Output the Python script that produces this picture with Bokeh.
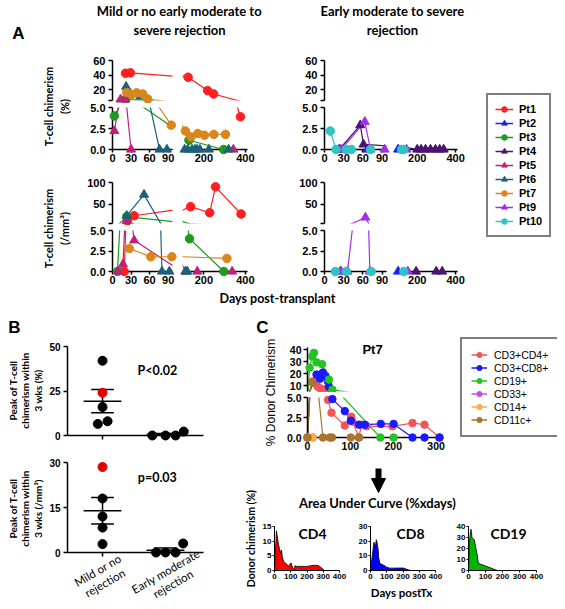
import math
from bokeh.plotting import figure
from bokeh.models import (Range1d, FixedTicker, Legend, LegendItem, Arrow, NormalHead,
                          LinearAxis, NumeralTickFormatter, Spacer)
from bokeh.layouts import row, column
from bokeh.core.properties import value
from bokeh.embed import file_html
from bokeh.resources import INLINE

# ---------------- Panel A data : T-cell chimerism (%) ----------------
PT1_PCT_DAY = [21, 29, 124, 218, 247, 376]
PT1_PCT_VAL = [42.5, 43, 37, 18.6, 14, 3.9]
PT2_PCT_DAY = [67, 100]
PT2_PCT_VAL = [0, 0]
PT3_PCT_DAY = [3, 21, 128, 295]
PT3_PCT_VAL = [4.0, 6.5, 1.1, 0]
PT4_PCT_DAY = [23, 56, 61, 200, 220, 243, 269, 295, 317, 338]
PT4_PCT_VAL = [0, 2.9, 0.6, 0, 0, 0, 0, 0, 0, 0]
PT5_PCT_DAY = [3, 13, 21, 30, 342]
PT5_PCT_VAL = [2.2, 6.5, 6.5, 0, 0]
PT6_PCT_DAY = [22, 45, 76, 88, 107, 122, 143, 157, 167, 181, 224, 319]
PT6_PCT_VAL = [24, 10.5, 0, 0, 0, 0, 0, 0, 0, 0, 0, 0]
PT7_PCT_DAY = [23, 31, 39, 49, 57, 95, 111, 138, 171, 203, 248, 304]
PT7_PCT_VAL = [16, 13, 15.5, 14, 7, 2.9, 2.2, 1.5, 1.9, 1.7, 1.8, 1.8]
PT9_PCT_DAY = [26, 63, 72, 94, 144]
PT9_PCT_VAL = [0, 3.3, 0, 0, 0]
PT10_PCT_DAY = [9, 18, 34, 42, 72, 118, 130]
PT10_PCT_VAL = [2.2, 0, 0, 0, 0, 0, 0]

# ---------------- Panel A data : T-cell chimerism (/mm3) ----------------
PT1_MM3_DAY = [19, 24, 35, 136, 228, 256, 379]
PT1_MM3_VAL = [0, 11, 23, 44, 30, 90, 27]
PT2_MM3_DAY = [100]
PT2_MM3_VAL = [0]
PT3_MM3_DAY = [8, 23, 131, 296]
PT3_MM3_VAL = [0, 21, 4.0, 0]
PT4_MM3_DAY = [25, 194, 299, 330]
PT4_MM3_VAL = [0, 0, 0, 0]
PT5_MM3_DAY = [9, 17, 23, 35, 112, 168, 336]
PT5_MM3_VAL = [0, 0.9, 11, 3.8, 0, 0, 0]
PT6_MM3_DAY = [23, 51, 80, 92, 111, 120]
PT6_MM3_VAL = [23, 72, 0, 0, 0, 0]
PT7_MM3_DAY = [27, 62, 96, 311]
PT7_MM3_VAL = [2.8, 1.8, 1.8, 1.6]
PT9_MM3_DAY = [26, 36, 64, 71, 151]
PT9_MM3_VAL = [0, 0, 19, 0, 0]
PT10_MM3_DAY = [17, 34, 73, 130]
PT10_MM3_VAL = [0, 0, 0, 0]

PATIENTS = ["Pt1", "Pt2", "Pt3", "Pt4", "Pt5", "Pt6", "Pt7", "Pt9", "Pt10"]
PT_COLORS = ["#ff1f1f", "#1f1fe6", "#1e9a1e", "#4a1470", "#c0207a",
             "#1d6078", "#d9861c", "#a030e8", "#2ec4c4"]
PT_MARKERS = ["circle", "triangle", "circle", "triangle", "triangle",
              "triangle", "circle", "triangle", "circle"]
GROUP_MILD = ["Pt1", "Pt3", "Pt5", "Pt6", "Pt7"]
GROUP_EARLY = ["Pt2", "Pt4", "Pt9", "Pt10"]

SERIES_PCT = {"Pt1": (PT1_PCT_DAY, PT1_PCT_VAL), "Pt2": (PT2_PCT_DAY, PT2_PCT_VAL),
              "Pt3": (PT3_PCT_DAY, PT3_PCT_VAL), "Pt4": (PT4_PCT_DAY, PT4_PCT_VAL),
              "Pt5": (PT5_PCT_DAY, PT5_PCT_VAL), "Pt6": (PT6_PCT_DAY, PT6_PCT_VAL),
              "Pt7": (PT7_PCT_DAY, PT7_PCT_VAL), "Pt9": (PT9_PCT_DAY, PT9_PCT_VAL),
              "Pt10": (PT10_PCT_DAY, PT10_PCT_VAL)}
SERIES_MM3 = {"Pt1": (PT1_MM3_DAY, PT1_MM3_VAL), "Pt2": (PT2_MM3_DAY, PT2_MM3_VAL),
              "Pt3": (PT3_MM3_DAY, PT3_MM3_VAL), "Pt4": (PT4_MM3_DAY, PT4_MM3_VAL),
              "Pt5": (PT5_MM3_DAY, PT5_MM3_VAL), "Pt6": (PT6_MM3_DAY, PT6_MM3_VAL),
              "Pt7": (PT7_MM3_DAY, PT7_MM3_VAL), "Pt9": (PT9_MM3_DAY, PT9_MM3_VAL),
              "Pt10": (PT10_MM3_DAY, PT10_MM3_VAL)}

# ---------------- Panel B data ----------------
B_CATEGORIES = ["Mild or no\nrejection", "Early moderate\nrejection"]
B_PCT_MILD = [42, 24, 16, 8, 6.5]
B_PCT_EARLY = [0, 0, 0, 2.2]
B_MM3_MILD = [28.5, 18, 12, 8.3, 2.8]
B_MM3_EARLY = [0, 0, 0, 3]
B_PCT_HIGHLIGHT = 1   # index of the red point (mild group)
B_MM3_HIGHLIGHT = 0
# horizontal scatter jitter (category units)
B_PCT_JIT_MILD = [0, 0, 0, 0.08, -0.075]
B_PCT_JIT_EARLY = [-0.21, 0, 0.16, 0.29]
B_MM3_JIT_MILD = [0, 0, 0, 0, 0]
B_MM3_JIT_EARLY = [-0.15, 0, 0.16, 0.28]

# ---------------- Panel C data (Pt7 lineages) ----------------
CD4_DAY = [0, 12, 16, 24, 30, 36, 43, 48, 56, 87, 102, 105, 120, 126, 138, 198, 245, 273, 308]
CD4_VAL = [0, 13.5, 12, 9, 7.6, 6, 7, 4.7, 3.1, 1.5, 2.6, 2.0, 0, 1.6, 1.4, 1.4, 1.8, 1.6, 0]
CD8_DAY = [0, 21, 29, 36, 42, 48, 50, 58, 87, 101, 120, 134, 171, 201, 245, 273, 308]
CD8_VAL = [0, 19.3, 15.8, 21, 18, 13.5, 9, 4.8, 3.3, 2.1, 1.6, 1.6, 1.7, 1.7, 0, 0, 0]
CD19_DAY = [0, 5, 11, 15, 21, 34, 50, 58, 170, 201]
CD19_VAL = [0, 25, 34.5, 37.5, 29.5, 28, 15, 6.5, 0, 0]
CD33_DAY = [0, 12]
CD33_VAL = [0, 0]
CD14_DAY = [0, 12]
CD14_VAL = [0, 0]
CD11C_DAY = [0, 12, 36, 52, 57, 101, 120]
CD11C_VAL = [0, 12.5, 0, 0, 0, 0, 0]
C_NAMES = ["CD3+CD4+", "CD3+CD8+", "CD19+", "CD33+", "CD14+", "CD11c+"]
C_COLORS = ["#f25555", "#1a1aff", "#22c322", "#c24ee0", "#ffaa44", "#a8742e"]
C_SERIES = [(CD4_DAY, CD4_VAL), (CD8_DAY, CD8_VAL), (CD19_DAY, CD19_VAL),
            (CD33_DAY, CD33_VAL), (CD14_DAY, CD14_VAL), (CD11C_DAY, CD11C_VAL)]
AUC_NAMES = ["CD4", "CD8", "CD19"]
AUC_COLORS = ["#ff0000", "#0000ff", "#00b400"]
AUC_YMAX = [15, 30, 40]
AUC_YTICKS = [[0, 5, 10, 15], [0, 10, 20, 30], [0, 10, 20, 30, 40]]

# ---------------- helpers ----------------
TICK_FONT = "Liberation Sans"


def make_fig(w, h, xr, yr, bl, br, bt, bb):
    p = figure(width=w, height=h, x_range=Range1d(*xr), y_range=Range1d(*yr),
               x_axis_type=None, y_axis_type=None, output_backend="svg",
               toolbar_location=None, min_border_left=bl, min_border_right=br,
               min_border_top=bt, min_border_bottom=bb)
    p.outline_line_color = None
    p.background_fill_color = "white"
    p.border_fill_color = "white"
    return p


def add_axis(p, side, ticks, fmt=None, overrides=None, size="11px", tick_out=4,
             standoff=2, lw=1.5):
    ax = LinearAxis(ticker=FixedTicker(ticks=ticks))
    if fmt:
        ax.formatter = NumeralTickFormatter(format=fmt)
    if overrides:
        ax.major_label_overrides = overrides
    ax.axis_line_width = lw
    ax.axis_line_color = "black"
    ax.major_tick_line_width = lw
    ax.major_tick_line_color = "black"
    ax.major_tick_out = tick_out
    ax.major_tick_in = 0
    ax.minor_tick_line_color = None
    ax.major_label_text_font = TICK_FONT
    ax.major_label_text_font_style = "bold"
    ax.major_label_text_font_size = size
    ax.major_label_text_color = "black"
    ax.major_label_standoff = standoff
    p.add_layout(ax, side)
    return ax


def text_fig(x0, x1, y0, y1):
    return make_fig(int(x1 - x0), int(y1 - y0), (x0, x1), (y1, y0), 0, 0, 0, 0)


def put_text(p, x, y, s, size, font="Lato", bold=True, angle=0.0, lh=1.2):
    p.text(x=[x], y=[y], text=[s], angle=angle, text_align="center",
           text_baseline="middle", text_font=value(font),
           text_font_style="bold" if bold else "normal", text_font_size=size,
           text_color="black", text_line_height=lh)


def ftext(p, dx, dy, s, size, font="Lato", bold=True, angle=0.0, x=None, y=None, lh=1.2):
    """Text anchored at frame's bottom-left (or given data x / y), offset in px
    (dx right, dy up). Drawn at overlay level so it may sit outside the frame."""
    ax = p.x_range.start if x is None else x
    ay = p.y_range.start if y is None else y
    p.text(x=[ax], y=[ay], text=[s], x_offset=dx, y_offset=-dy, angle=angle,
           text_align="center", text_baseline="middle", text_font=value(font),
           text_font_style="bold" if bold else "normal", text_font_size=size,
           text_color="black", text_line_height=lh, level="overlay")


# ---------------- Panel A ----------------
XSEG1 = (0, 97)
XSEG2 = (97, 410)
YBOT = (0, 5)
BREAK = 5


def seg_points(days, vals, xr, first_x, top):
    xs, ys = [], []
    for d, v in zip(days, vals):
        okx = (xr[0] <= d <= xr[1]) if first_x else (xr[0] < d <= xr[1])
        oky = (v > BREAK) if top else (v <= BREAK)
        if okx and oky:
            xs.append(d)
            ys.append(v)
    return xs, ys


def draw_patients(p, patients, series, xr, first_x, top):
    for name in patients:
        i = PATIENTS.index(name)
        d, v = series[name]
        p.line(d, v, line_color=PT_COLORS[i], line_width=1.2)
    for name in patients:
        i = PATIENTS.index(name)
        d, v = series[name]
        xs, ys = seg_points(d, v, xr, first_x, top)
        if xs:
            sz = 9 if PT_MARKERS[i] == "triangle" else 8.5
            p.scatter(xs, ys, marker=PT_MARKERS[i], size=sz, fill_color=PT_COLORS[i],
                      line_color=PT_COLORS[i], level="overlay")


def broken_block(patients, series, ytop, top_ticks, cols, rows):
    grid = {}
    for top in (True, False):
        for first in (True, False):
            xr = XSEG1 if first else XSEG2
            yr = ytop if top else YBOT
            w, bl, br = cols[0] if first else cols[1]
            h, bt, bb = rows[0] if top else rows[1]
            p = make_fig(w, h, xr, yr, bl, br, bt, bb)
            if first:
                if top:
                    add_axis(p, "left", top_ticks, overrides={BREAK: ""}, standoff=3)
                else:
                    add_axis(p, "left", [0, 2.5, 5], fmt="0.0", standoff=3)
            if not top:
                add_axis(p, "below", [0, 30, 60, 90] if first else [200, 400],
                         tick_out=3, standoff=1)
            draw_patients(p, patients, series, xr, first, top)
            grid[(top, first)] = p
    return column(row(grid[(True, True)], grid[(True, False)]),
                  row(grid[(False, True)], grid[(False, False)]))


LEFT_COLS = [(94, 29, 5), (81, 5, 11)]
RIGHT_COLS = [(133, 66, 5), (77, 6, 11)]
PCT_ROWS = [(53, 10, 3), (63, 4, 17)]
MM3_ROWS = [(59, 16, 2), (65, 5, 19)]

left_block = column(
    broken_block(GROUP_MILD, SERIES_PCT, (5, 60), [5, 20, 40, 60], LEFT_COLS, PCT_ROWS),
    broken_block(GROUP_MILD, SERIES_MM3, (5, 100), [5, 50, 100], LEFT_COLS, MM3_ROWS))
right_block = column(
    broken_block(GROUP_EARLY, SERIES_PCT, (5, 60), [5, 20, 40, 60], RIGHT_COLS, PCT_ROWS),
    broken_block(GROUP_EARLY, SERIES_MM3, (5, 100), [5, 50, 100], RIGHT_COLS, MM3_ROWS))

# header (window y 0..50)
header = text_fig(8, 557, 0, 50)
put_text(header, 18, 33, "A", "17px", font="Liberation Sans")
put_text(header, 179, 20, "Mild or no early moderate to\nsevere rejection", "13px", lh=1.2)
put_text(header, 392, 20, "Early moderate to severe\nrejection", "13px", lh=1.2)

# y labels panel A
textA = text_fig(8, 83, 50, 290)
put_text(textA, 56, 106, "T-cell chimerism\n(%)", "11px", angle=math.pi / 2, lh=1.3)
put_text(textA, 56, 228, "T-cell chimerism\n(/mm³)", "11px", angle=math.pi / 2, lh=1.3)


def legend_fig(w, h, names, colors, markers, loc, **kw):
    p = make_fig(w, h, (0, 1), (0, 1), 0, 0, 0, 0)
    items = []
    for n, c, m in zip(names, colors, markers):
        # legend proxies placed outside the visible range
        rl = p.line([5, 6], [5, 5], line_color=c, line_width=1.5)
        rm = p.scatter([5], [5], marker=m, size=8, fill_color=c, line_color=c)
        items.append(LegendItem(label=n, renderers=[rl, rm]))
    p.add_layout(Legend(items=items, location=loc, border_line_color="black",
                        border_line_width=2.5, spacing=0, margin=0,
                        label_text_color="black", background_fill_alpha=1, **kw))
    return p


legA = legend_fig(89, 240, PATIENTS, PT_COLORS, PT_MARKERS, (18, 53),
                  padding=7, label_standoff=6, glyph_width=18, glyph_height=14,
                  label_height=14, label_text_font=TICK_FONT,
                  label_text_font_style="bold", label_text_font_size="11px")

rowA = row(textA, left_block, right_block, legA)

footer = text_fig(8, 557, 290, 306)
put_text(footer, 277, 298, "Days post-transplant", "12.5px")

# ---------------- Panel B ----------------
BX = (0.444, 2.603)


def mean_sem(vals):
    n = len(vals)
    m = sum(vals) / n
    sd = (sum((x - m) ** 2 for x in vals) / (n - 1)) ** 0.5
    return m, sd / n ** 0.5


def b_panel(h, yr, yticks, bt, bb, mild, early, jit_m, jit_e, hi):
    p = make_fig(235, h, BX, yr, 59, 40, bt, bb)
    add_axis(p, "left", yticks, size="10px", standoff=3)
    add_axis(p, "below", [1, 2], overrides={1: "", 2: ""}, size="10px")
    for k, (vals, jit) in enumerate(((mild, jit_m), (early, jit_e))):
        cx = k + 1
        m, se = mean_sem(vals)
        p.segment([cx - 0.3], [m], [cx + 0.3], [m], line_color="black", line_width=1.5)
        p.segment([cx], [m - se], [cx], [m + se], line_color="black", line_width=1.5)
        p.segment([cx - 0.18, cx - 0.18], [m - se, m + se], [cx + 0.18, cx + 0.18],
                  [m - se, m + se], line_color="black", line_width=1.5)
        cols = ["#e00000" if (k == 0 and j == hi) else "black" for j in range(len(vals))]
        p.scatter([cx + o for o in jit], vals, size=9, fill_color=cols, line_color=cols,
                  level="overlay")
    return p


B1 = b_panel(139, (0, 50), [0, 25, 50], 40, 10, B_PCT_MILD, B_PCT_EARLY,
             B_PCT_JIT_MILD, B_PCT_JIT_EARLY, B_PCT_HIGHLIGHT)
ftext(B1, -53, 108, "B", "17px", font="Liberation Sans")
ftext(B1, -42, 45, "Peak of T-cell\nchimerism within\n3 wks (%)", "10px",
      angle=math.pi / 2, lh=1.05)
ftext(B1, 0, 0, "P<0.02", "12.5px", x=1.87, y=36.5)

B2 = b_panel(156, (0, 30), [0, 15, 30], 17, 49, B_MM3_MILD, B_MM3_EARLY,
             B_MM3_JIT_MILD, B_MM3_JIT_EARLY, B_MM3_HIGHLIGHT)
ftext(B2, -42, 44, "Peak of T-cell\nchimerism within\n3 wks (/mm³)", "10px",
      angle=math.pi / 2, lh=1.05)
ftext(B2, 0, 0, "p=0.03", "12.5px", x=1.87, y=25)
ftext(B2, 0, -24, B_CATEGORIES[0], "11.5px", bold=False, angle=math.pi / 6, x=0.98, lh=1.1)
ftext(B2, 0, -25, B_CATEGORIES[1], "11.5px", bold=False, angle=math.pi / 6, x=2.06, lh=1.1)

Bblock = column(B1, B2)

# ---------------- Panel C ----------------
stripC = text_fig(243, 283, 306, 460)
put_text(stripC, 262, 327, "C", "17px", font="Liberation Sans")
put_text(stripC, 270, 392, "% Donor Chimerism", "12px", font="Liberation Sans", bold=False,
         angle=math.pi / 2)

CX = (0, 315)


def pt7_fig(top):
    if top:
        p = make_fig(174, 86, CX, (5, 42), 24, 15, 41, 1)
        add_axis(p, "left", [10, 20, 30, 40], size="10.5px", standoff=2)
    else:
        p = make_fig(174, 68, CX, (0, 5), 24, 15, 5, 23)
        add_axis(p, "left", [0, 2.5, 5], fmt="0.0", size="10.5px", standoff=2)
        add_axis(p, "below", [0, 100, 200, 300], size="10.5px", tick_out=3, standoff=1)
    for (d, v), c in zip(C_SERIES, C_COLORS):
        p.line(d, v, line_color=c, line_width=1.2)
    for (d, v), c in zip(C_SERIES, C_COLORS):
        xs, ys = seg_points(d, v, CX, True, top)
        if xs:
            p.scatter(xs, ys, marker="circle", size=7.5, fill_color=c, line_color=c,
                      level="overlay")
    return p


pt7_top = pt7_fig(True)
pt7_bot = pt7_fig(False)
ftext(pt7_top, 65, 42, "Pt7", "13px", font="Liberation Sans")

legC = legend_fig(100, 154, C_NAMES, C_COLORS, ["circle"] * 6, (3, 23),
                  padding=9, label_standoff=7, glyph_width=16, glyph_height=13,
                  label_height=13, label_text_font=TICK_FONT,
                  label_text_font_size="10.5px")

C1 = row(stripC, column(pt7_top, pt7_bot), legC)

strip2 = text_fig(243, 259, 460, 601)
put_text(strip2, 250, 538, "Donor chimerism (%)", "10.5px", angle=math.pi / 2)

C2 = text_fig(259, 557, 460, 510)
C2.add_layout(Arrow(end=NormalHead(size=14, fill_color="black", line_color="black"),
                    x_start=378, y_start=468, x_end=378, y_end=492,
                    line_width=6, line_color="black"))
put_text(C2, 377, 502, "Area Under Curve (%xdays)", "13px")

AUC_GEOM = [(96, 13, 16), (95, 12, 15), (107, 18, 21)]
auc_figs = []
for k in range(3):
    w, bl, br = AUC_GEOM[k]
    p = make_fig(w, 91, (0, 400), (0, AUC_YMAX[k]), bl, br, 16, 31)
    add_axis(p, "left", AUC_YTICKS[k], size="8px", tick_out=2, standoff=1, lw=1)
    add_axis(p, "below", [0, 100, 200, 300, 400], size="8px", tick_out=2, standoff=1, lw=1)
    d, v = C_SERIES[k]
    p.varea(x=d, y1=[0] * len(d), y2=v, fill_color=AUC_COLORS[k])
    p.line(d, v, line_color="black", line_width=0.8)
    ftext(p, 38 if k == 0 else 40, 37, AUC_NAMES[k], "14px")
    auc_figs.append(p)
ftext(auc_figs[1], 31, -22, "Days postTx", "11.5px")

C23 = row(strip2, column(C2, row(*auc_figs)))
Cblock = column(C1, C23)

rowBC = row(Bblock, Cblock)

content = column(header, rowA, footer, rowBC)
page = row(Spacer(width=8, height=10), content)

open("out.html", "w").write(file_html(page, INLINE))
